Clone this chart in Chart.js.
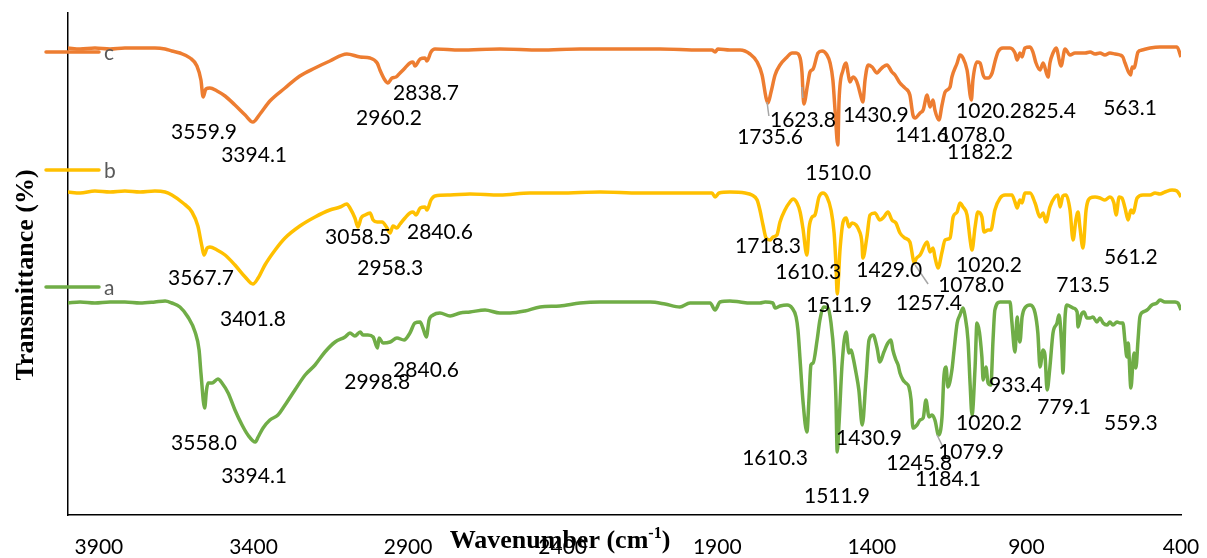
<!DOCTYPE html>
<html><head><meta charset="utf-8">
<script src="https://cdn.jsdelivr.net/npm/chart.js@4.4.1/dist/chart.umd.min.js"></script>
<style>html,body{margin:0;padding:0;background:#fff;overflow:hidden}#wrap{width:1207px;height:558px}</style>
</head><body><div id="wrap"><canvas id="cv" width="1207" height="558"></canvas></div>
<script>
// ---- data ----
const seriesNames = ['c', 'b', 'a'];
const xTickValues = [3900, 3400, 2900, 2400, 1900, 1400, 900, 400];
// [wavenumber (cm-1), transmittance (arbitrary, offset)]
const spectrumC = [[4000,93.4],[3961,93.2],[3913,93.4],[3864,93.2],[3816,93.4],[3767,93.4],[3719,93.4],[3686,93.2],[3664,92.8],[3638,92.4],[3605,91.4],[3583,89.8],[3570,87.0],[3563,83.6],[3554,85.2],[3541,85.4],[3518,84.8],[3492,83.8],[3460,82.0],[3427,80.0],[3402,78.6],[3379,80.2],[3347,82.8],[3298,85.4],[3250,87.8],[3201,89.4],[3153,90.8],[3098,92.2],[3055,91.6],[3023,91.4],[3000,90.4],[2991,89.0],[2975,87.0],[2965,86.4],[2952,87.4],[2939,87.6],[2926,88.4],[2910,89.4],[2894,90.4],[2884,90.6],[2878,89.8],[2861,91.2],[2845,91.4],[2839,90.8],[2826,92.6],[2813,93.2],[2732,93.0],[2603,93.2],[2473,93.0],[2344,93.2],[2215,93.2],[2085,93.2],[1956,93.0],[1917,93.0],[1907,92.6],[1898,93.2],[1859,93.0],[1826,93.0],[1794,92.2],[1771,90.6],[1755,88.0],[1742,83.4],[1736,82.4],[1726,84.6],[1713,88.0],[1697,90.0],[1674,91.6],[1658,92.4],[1645,92.4],[1632,91.4],[1626,88.6],[1620,82.2],[1608,86.0],[1600,88.6],[1590,89.2],[1574,92.4],[1561,92.8],[1545,92.0],[1535,90.4],[1526,87.0],[1519,81.0],[1510,74.0],[1506,83.0],[1493,89.0],[1483,90.4],[1477,88.4],[1471,86.6],[1461,87.6],[1451,87.0],[1445,86.0],[1432,83.0],[1429,82.6],[1422,87.0],[1412,90.0],[1399,89.6],[1383,88.4],[1374,89.0],[1364,89.6],[1351,90.0],[1335,88.6],[1325,88.0],[1309,86.4],[1293,85.4],[1277,84.0],[1267,80.0],[1260,79.4],[1244,80.4],[1234,81.0],[1221,84.0],[1212,81.6],[1202,83.0],[1196,81.0],[1183,79.0],[1173,82.0],[1163,84.6],[1147,85.6],[1141,87.6],[1124,90.4],[1115,92.0],[1105,91.4],[1092,89.0],[1078,83.0],[1073,87.0],[1060,90.6],[1050,90.4],[1040,88.0],[1034,87.4],[1024,87.4],[1011,88.4],[1002,90.6],[992,92.6],[976,93.4],[953,93.4],[937,92.4],[930,91.0],[921,92.4],[914,91.6],[905,93.4],[888,93.6],[879,92.6],[869,90.4],[856,89.0],[846,90.4],[830,87.6],[824,90.4],[814,92.4],[804,93.4],[788,89.8],[775,93.2],[759,92.0],[743,92.4],[710,92.4],[694,92.6],[678,92.2],[662,92.4],[646,92.0],[630,92.4],[613,92.2],[597,92.0],[588,91.6],[581,90.4],[563,88.0],[558,89.6],[552,89.4],[539,92.6],[526,93.0],[500,93.4],[468,93.6],[436,93.6],[413,93.6],[400,91.6]];
const spectrumB = [[4000,64.6],[3961,64.4],[3913,64.8],[3864,64.6],[3816,64.8],[3767,64.6],[3719,64.8],[3686,64.6],[3664,64.0],[3628,62.4],[3599,60.6],[3580,57.8],[3567,53.8],[3560,52.0],[3550,53.4],[3541,53.6],[3518,53.0],[3492,52.0],[3460,50.0],[3427,47.6],[3402,46.2],[3385,47.4],[3363,50.0],[3330,53.0],[3298,55.4],[3250,57.8],[3201,59.6],[3153,61.0],[3120,61.6],[3098,62.2],[3088,61.4],[3072,59.4],[3062,57.6],[3052,59.4],[3039,60.0],[3023,60.4],[3013,59.0],[3000,58.6],[2984,58.6],[2968,57.4],[2958,56.4],[2949,57.8],[2936,57.4],[2926,58.2],[2910,59.4],[2894,60.4],[2884,60.6],[2874,60.0],[2861,61.4],[2845,61.6],[2839,61.0],[2826,63.0],[2813,63.8],[2764,64.0],[2700,64.2],[2603,64.0],[2506,64.4],[2409,64.4],[2279,64.6],[2150,64.4],[2021,64.4],[1956,64.4],[1917,64.4],[1907,63.6],[1894,64.4],[1859,64.6],[1810,64.4],[1788,64.0],[1771,63.0],[1762,61.0],[1752,58.0],[1742,55.4],[1729,55.0],[1720,55.6],[1707,56.0],[1697,58.6],[1681,61.0],[1665,62.6],[1655,63.2],[1642,62.4],[1632,60.6],[1623,57.4],[1610,52.0],[1603,57.4],[1593,59.6],[1584,60.0],[1571,63.6],[1558,64.4],[1545,63.6],[1532,61.0],[1522,56.4],[1516,50.0],[1512,44.2],[1503,53.0],[1493,58.6],[1483,59.4],[1474,57.6],[1464,58.4],[1451,58.0],[1442,57.0],[1432,54.4],[1429,51.4],[1416,55.6],[1406,60.0],[1390,60.4],[1374,59.0],[1361,59.6],[1348,60.6],[1335,59.0],[1322,58.4],[1309,56.4],[1293,55.4],[1277,54.6],[1262,50.4],[1257,51.2],[1244,52.0],[1221,54.6],[1212,52.6],[1202,53.4],[1196,51.6],[1186,49.4],[1173,52.6],[1163,55.0],[1147,55.4],[1137,59.6],[1124,60.6],[1115,62.4],[1105,61.6],[1092,60.0],[1082,55.0],[1076,53.0],[1066,57.6],[1057,60.6],[1044,59.6],[1037,56.6],[1024,57.0],[1015,57.0],[1002,61.0],[985,63.4],[969,64.0],[947,64.0],[937,62.6],[930,61.4],[921,63.0],[914,62.4],[905,64.4],[888,64.4],[872,62.4],[856,59.6],[846,60.4],[837,58.6],[824,61.6],[808,63.6],[798,64.0],[791,61.6],[782,63.8],[772,64.0],[759,61.0],[749,55.0],[740,59.0],[733,60.6],[727,57.6],[717,53.4],[707,61.0],[694,63.4],[678,63.6],[662,63.4],[646,63.0],[630,63.6],[617,62.4],[610,60.0],[600,63.6],[591,63.4],[581,61.4],[571,59.0],[562,61.0],[555,60.4],[542,63.4],[523,64.0],[500,64.0],[484,64.4],[468,64.2],[452,64.6],[429,65.0],[413,64.8],[400,63.6]];
const spectrumA = [[4000,42.4],[3961,42.6],[3913,42.4],[3864,42.6],[3816,42.6],[3767,42.4],[3719,42.6],[3686,42.8],[3664,42.4],[3638,41.6],[3612,39.6],[3589,36.6],[3576,33.0],[3570,28.4],[3558,21.4],[3552,25.0],[3547,26.4],[3534,26.4],[3515,27.2],[3502,26.4],[3482,24.4],[3460,21.0],[3437,18.0],[3418,16.0],[3394,14.6],[3385,15.6],[3369,17.4],[3347,19.0],[3321,20.0],[3298,22.0],[3266,25.0],[3233,28.0],[3201,30.0],[3169,32.6],[3136,34.6],[3104,35.6],[3088,36.4],[3072,35.8],[3055,36.6],[3046,36.0],[3030,36.0],[3013,35.6],[2999,33.4],[2994,35.4],[2981,34.4],[2958,34.6],[2936,35.4],[2913,35.0],[2894,36.4],[2878,38.4],[2861,38.6],[2852,37.4],[2841,35.6],[2832,39.0],[2819,40.0],[2797,40.4],[2764,39.8],[2732,40.4],[2700,40.6],[2651,41.0],[2603,40.4],[2570,40.4],[2522,40.8],[2473,41.6],[2409,41.8],[2344,42.4],[2279,42.6],[2215,42.6],[2117,42.6],[2069,42.2],[2021,41.6],[1988,42.4],[1923,42.4],[1907,41.0],[1891,42.6],[1859,42.8],[1826,42.6],[1794,42.4],[1762,42.4],[1745,42.6],[1720,42.4],[1713,41.4],[1697,41.8],[1674,42.0],[1658,41.4],[1645,39.6],[1639,37.0],[1632,31.0],[1623,23.0],[1610,16.6],[1603,23.6],[1597,30.0],[1590,30.4],[1577,35.0],[1568,39.0],[1555,41.6],[1542,41.4],[1532,38.4],[1522,31.6],[1516,23.0],[1512,12.6],[1506,18.4],[1496,30.4],[1483,36.6],[1474,32.4],[1467,33.0],[1461,31.6],[1451,28.4],[1442,25.0],[1431,18.0],[1419,27.0],[1409,35.0],[1396,36.0],[1383,33.4],[1374,30.6],[1361,32.6],[1348,34.4],[1338,35.0],[1332,33.0],[1322,31.0],[1315,30.0],[1309,28.4],[1299,27.0],[1290,26.4],[1280,25.6],[1273,23.0],[1267,17.4],[1254,18.0],[1244,19.0],[1234,19.4],[1225,23.0],[1215,19.6],[1205,20.0],[1196,19.0],[1184,16.0],[1173,19.6],[1167,27.6],[1160,29.6],[1154,25.6],[1141,29.0],[1134,33.0],[1124,38.4],[1115,40.0],[1105,41.4],[1099,40.0],[1089,35.0],[1082,26.0],[1076,20.0],[1066,29.6],[1060,38.4],[1044,31.6],[1040,27.0],[1031,29.6],[1024,26.4],[1015,26.0],[1008,35.0],[1002,41.0],[985,42.6],[953,42.6],[947,38.6],[937,32.6],[930,39.6],[927,37.6],[921,34.6],[914,39.6],[905,41.4],[888,42.0],[872,40.4],[863,36.4],[856,29.6],[846,33.0],[840,32.0],[833,25.0],[824,29.6],[814,36.4],[801,38.4],[795,40.0],[785,33.0],[782,28.4],[775,39.6],[769,42.0],[749,41.4],[736,40.6],[733,37.6],[723,40.0],[714,40.6],[704,39.4],[694,39.4],[685,39.6],[672,38.6],[662,39.4],[652,38.4],[639,38.0],[630,38.6],[620,38.0],[607,38.6],[597,38.4],[588,38.4],[581,34.6],[575,31.6],[571,34.4],[562,25.4],[555,31.0],[552,32.4],[546,29.4],[539,35.0],[533,39.6],[523,40.6],[510,41.0],[494,42.0],[478,42.4],[468,43.0],[452,42.6],[436,42.6],[419,42.6],[410,42.4],[400,41.0]];
const peakTextC = ['3559.9','3394.1','2960.2','2838.7','1735.6','1623.8','1510.0','1430.9','141.6','1078.0','1182.2','1020.2','825.4','563.1'];
const peakTextB = ['3567.7','3401.8','3058.5','2958.3','2840.6','1718.3','1610.3','1511.9','1429.0','1257.4','1078.0','1020.2','713.5','561.2'];
const peakTextA = ['3558.0','3394.1','2998.8','2840.6','1610.3','1511.9','1430.9','1245.8','1079.9','1184.1','1020.2','933.4','779.1','559.3'];

// ---- layout (label anchors in data units, styles) ----
const labelAnchorsC = [[3560,76.6],[3398,72.0],[2962,79.4],[2842,84.4],[1729,75.6],[1623,79.0],[1509,68.4],[1387,80.0],[1238,76.0],[1076,76.0],[1050,72.6],[1021,80.8],[827,80.8],[565,81.4]];
const labelAnchorsB = [[3570,47.4],[3402,39.2],[3062,55.6],[2958,49.4],[2797,56.6],[1736,53.8],[1606,48.6],[1506,42.0],[1344,49.0],[1215,42.4],[1079,46.0],[1021,50.0],[717,46.0],[562,51.6]];
const labelAnchorsA = [[3560,14.4],[3398,7.8],[3000,26.6],[2842,29.0],[1713,11.4],[1513,3.8],[1409,15.4],[1247,10.4],[1079,12.6],[1154,7.2],[1021,18.4],[934,26.0],[778,21.6],[562,18.4]];
const leaderLines = [[1739,82.6,1733,79.8],[1626,85.6,1623,83.4],[1260,50.0,1218,46.2],[1189,16.0,1170,13.6]];
const colors = ['#ED7D31', '#FFC000', '#70AD47'];
const legendRows = [52, 170, 287];

const toPts = arr => arr.map(([x, y]) => ({x, y}));
const spectra = [spectrumC, spectrumB, spectrumA];

const overlay = {
  id: 'overlay',
  afterDraw(chart) {
    const {ctx, scales: {x, y}} = chart;
    ctx.save();
    ctx.strokeStyle = '#A6A6A6';
    ctx.lineWidth = 1.5;
    leaderLines.forEach(l => {
      ctx.beginPath();
      ctx.moveTo(x.getPixelForValue(l[0]), y.getPixelForValue(l[1]));
      ctx.lineTo(x.getPixelForValue(l[2]), y.getPixelForValue(l[3]));
      ctx.stroke();
    });
    ctx.font = '21px Lato';
    ctx.fillStyle = '#000';
    ctx.textAlign = 'center';
    ctx.textBaseline = 'middle';
    [[peakTextC, labelAnchorsC], [peakTextB, labelAnchorsB], [peakTextA, labelAnchorsA]].forEach(([txt, anc]) => {
      txt.forEach((t, i) => ctx.fillText(t, x.getPixelForValue(anc[i][0]), y.getPixelForValue(anc[i][1])));
    });
    seriesNames.forEach((name, i) => {
      const ly = legendRows[i];
      ctx.strokeStyle = colors[i];
      ctx.lineWidth = 3.5;
      ctx.lineCap = 'round';
      ctx.beginPath(); ctx.moveTo(46, ly); ctx.lineTo(99, ly); ctx.stroke();
      ctx.fillStyle = '#595959';
      ctx.textAlign = 'left';
      ctx.textBaseline = 'alphabetic';
      ctx.font = '21px Lato';
      ctx.fillText(name, 104, ly + 8);
    });
    ctx.fillStyle = '#000';
    const big = 'bold 26px "Liberation Serif"', small = 'bold 16px "Liberation Serif"';
    ctx.font = big; const w1 = ctx.measureText('Wavenumber (cm').width; const w3 = ctx.measureText(')').width;
    ctx.font = small; const w2 = ctx.measureText('-1').width;
    let sx = 560 - (w1 + w2 + w3) / 2;
    ctx.textAlign = 'left'; ctx.textBaseline = 'alphabetic';
    ctx.font = big; ctx.fillText('Wavenumber (cm', sx, 548); sx += w1;
    ctx.font = small; ctx.fillText('-1', sx, 538); sx += w2;
    ctx.font = big; ctx.fillText(')', sx, 548);
    ctx.translate(33, 275);
    ctx.rotate(-Math.PI / 2);
    ctx.textAlign = 'center';
    ctx.font = big;
    ctx.fillText('Transmittance (%)', 0, 0);
    ctx.restore();
  }
};

new Chart(document.getElementById('cv'), {
  type: 'line',
  data: {
    datasets: spectra.map((s, i) => ({
      label: seriesNames[i],
      data: toPts(s),
      borderColor: colors[i],
      backgroundColor: colors[i],
      borderWidth: 3.5,
      pointRadius: 0,
      cubicInterpolationMode: 'monotone',
      fill: false
    }))
  },
  options: {
    responsive: false,
    animation: false,
    devicePixelRatio: 1,
    layout: {padding: {top: 13, right: 26, bottom: 0, left: 0}},
    plugins: {legend: {display: false}, tooltip: {enabled: false}, title: {display: false}},
    scales: {
      x: {
        type: 'linear', reverse: true, min: 400, max: 4000,
        afterBuildTicks: s => { s.ticks = xTickValues.map(v => ({value: v})); },
        afterFit: s => { s.height = 43; s.paddingLeft = 0; s.paddingRight = 0; },
        grid: {display: false, drawTicks: false},
        border: {display: true, color: '#000', width: 1.5},
        ticks: {font: {family: 'Lato', size: 21}, color: '#000', padding: 20, maxRotation: 0, autoSkip: false, callback: v => String(v)}
      },
      y: {
        type: 'linear', min: 0, max: 100.4,
        afterFit: s => { s.width = 68; s.paddingTop = 0; s.paddingBottom = 0; },
        grid: {display: false, drawTicks: false},
        border: {display: true, color: '#000', width: 1.5},
        ticks: {display: false}
      }
    }
  },
  plugins: [overlay]
});
</script>
</body></html>
